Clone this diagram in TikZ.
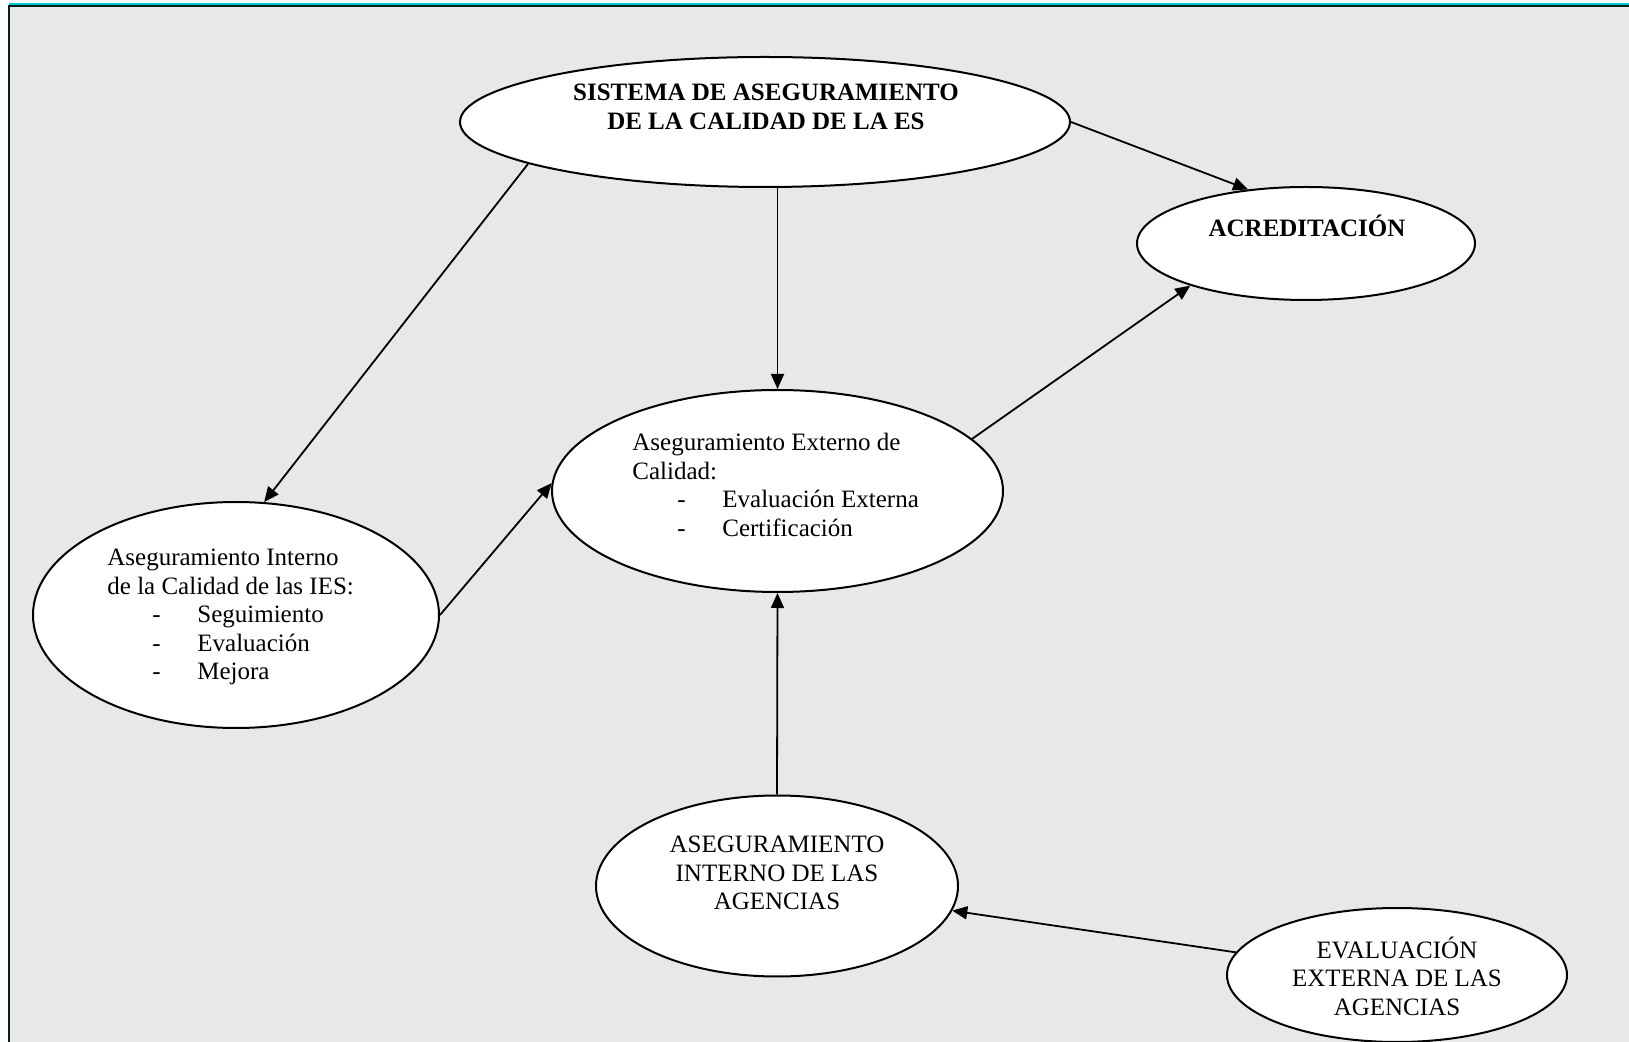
\documentclass[tikz,border=0pt]{standalone}
\usepackage{fontspec}
\setmainfont{Liberation Serif}
\usetikzlibrary{shapes.geometric,arrows.meta}
\definecolor{framecyan}{HTML}{00C8D0}
\definecolor{framedark}{HTML}{0A1E1E}
\definecolor{bggray}{HTML}{E8E8E8}
\newcommand{\dashitem}[1]{\hspace*{22.5pt}\makebox[22.5pt][l]{-}#1}

\begin{document}
\begin{tikzpicture}[x=0.5pt,y=-0.5pt,
  oval/.style={ellipse,draw,fill=white,line width=1pt,inner sep=0pt},
  txt/.style={font=\fontsize{12.5}{14.25}\selectfont,inner sep=0pt},
  hd/.style={font=\fontsize{12.5}{14.25}\selectfont\bfseries,inner sep=0pt},
  arr/.style={-{Triangle[length=7.5pt,width=6.5pt]},line width=0.9pt}]
  \useasboundingbox (0,0) rectangle (1629,1042);
  % frame
  \fill[bggray] (9,6) rectangle (1629,1042);
  \draw[framecyan,line width=0.9pt] (9,3.8)--(1629,3.8);
  \draw[framedark,line width=1pt] (9,1042)--(9,6.3)--(1629,6.3);

  % ellipses
  \node[oval,minimum width=305pt,minimum height=65pt] (sys) at (765,122) {};
  \node[oval,minimum width=169pt,minimum height=56.5pt] (acr) at (1306,243.5) {};
  \node[oval,minimum width=225.5pt,minimum height=101pt] (mid) at (777.5,491) {};
  \node[oval,minimum width=203pt,minimum height=113pt] (aic) at (236,615) {};
  \node[oval,minimum width=181pt,minimum height=90.5pt] (bot) at (777,886) {};
  \node[oval,minimum width=170pt,minimum height=67pt] (ext) at (1397,975) {};

  % texts
  \node[hd,align=center] (sysT) at (766,107) {SISTEMA DE ASEGURAMIENTO\\DE LA CALIDAD DE LA ES};
  \node[hd] (acrT) at (1307,226) {ACREDITACIÓN};
  \node[txt,align=left,anchor=west] (midT) at (632,485) {Aseguramiento Externo de\\Calidad:\\\dashitem{Evaluación Externa}\\\dashitem{Certificación}};
  \node[txt,align=left,anchor=west] (aicT) at (107,617) {Aseguramiento Interno\\de la Calidad de las IES:\\\dashitem{Seguimiento}\\\dashitem{Evaluación}\\\dashitem{Mejora}};
  \node[txt,align=center] (botT) at (777,873) {ASEGURAMIENTO\\INTERNO DE LAS\\AGENCIAS};
  \node[txt,align=center] (extT) at (1397,976) {EVALUACIÓN\\EXTERNA DE LAS\\AGENCIAS};

  % arrows
  \draw[arr] (sys.east) -- (acr.137);
  \draw[arr] (sys.190) -- (aic.76);
  \draw[arr] (sys.south -| mid.north) -- (mid.north);
  \draw[arr] (aic.east) -- (mid.178);
  \draw[arr] (mid.15) -- (acr.200);
  \draw[arr] (bot.north) -- (mid.south);
  \draw[arr] (ext.172) -- (bot.352);
\end{tikzpicture}
\end{document}
